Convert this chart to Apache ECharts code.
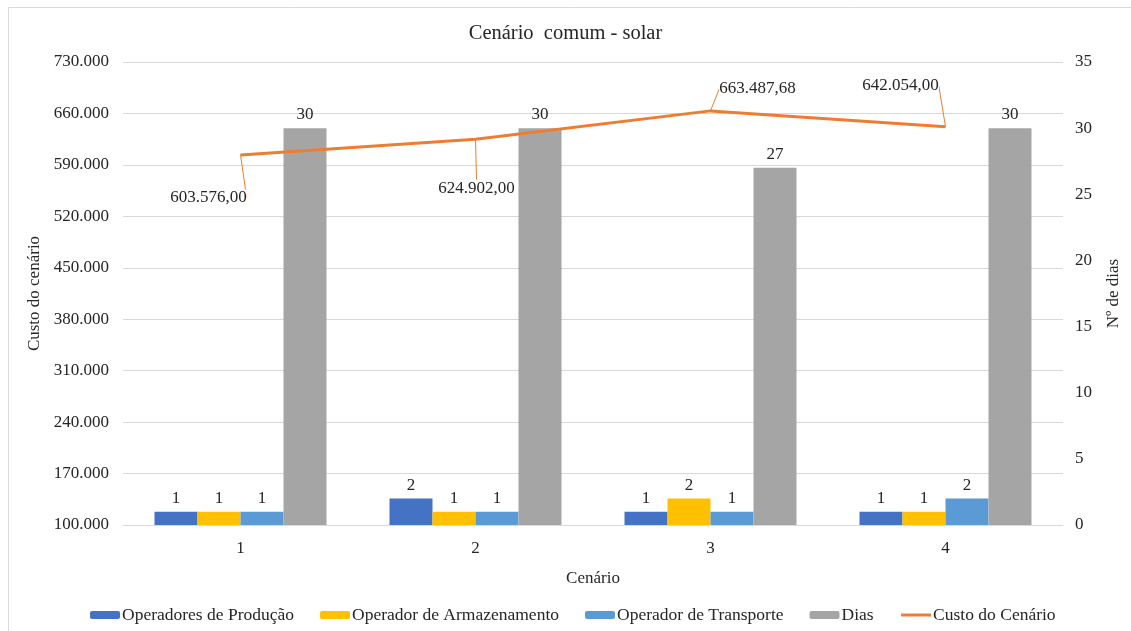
<!DOCTYPE html>
<head>
    <meta charset="UTF-8">
    <title>Cenário comum - solar</title>
    <script src="https://cdn.jsdelivr.net/npm/echarts@6/dist/echarts.min.js"></script>
    <style>
        body { margin: 0; background: #fff; }
        #main { width: 1131px; height: 631px; }
    </style>
</head>
<body>
    <div id="main"></div>
    <script type="text/javascript">
        // dados
        var cenarios = ['1', '2', '3', '4'];
        var operadoresProducao = [1, 2, 1, 1];
        var operadorArmazenamento = [1, 1, 2, 1];
        var operadorTransporte = [1, 1, 1, 2];
        var dias = [30, 30, 27, 30];
        var custoCenario = [603576.00, 624902.00, 663487.68, 642054.00];

        // deslocamento dos rótulos da linha (px)
        var labelShift = [[-32, 43], [1, 49], [47, -22], [-45, -41]];

        var serif = '"Liberation Serif", "DejaVu Serif", serif';
        var txt = '#262626';

        function milhar(v) {
            return String(Math.round(v)).replace(/\B(?=(\d{3})+(?!\d))/g, '.');
        }
        function moeda(v) {
            var p = v.toFixed(2).split('.');
            return milhar(Number(p[0])) + ',' + p[1];
        }

        var myChart = echarts.init(document.getElementById('main'));

        function barra(nome, dados, cor) {
            return {
                name: nome,
                type: 'bar',
                yAxisIndex: 1,
                data: dados,
                barWidth: 43,
                barGap: '0%',
                itemStyle: { color: cor },
                label: {
                    show: true,
                    position: 'top',
                    distance: 5,
                    fontFamily: serif,
                    fontSize: 17,
                    color: txt
                }
            };
        }

        myChart.setOption({
            animation: false,
            textStyle: { fontFamily: serif },
            graphic: [{
                type: 'rect',
                left: 6, top: 5,
                shape: { width: 1300, height: 800 },
                style: { fill: 'none', stroke: '#d9d9d9', lineWidth: 1 },
                silent: true
            }],
            title: {
                text: 'Cenário  comum - solar',
                left: 'center',
                top: 18,
                textStyle: { fontFamily: serif, fontSize: 20.5, fontWeight: 'normal', color: txt }
            },
            legend: {
                left: 85,
                top: 601,
                itemWidth: 30,
                itemHeight: 8,
                itemGap: 26,
                textStyle: { fontFamily: serif, fontSize: 17.5, color: txt, padding: [0, 0, 0, -3] },
                data: [
                    'Operadores de Produção',
                    'Operador de Armazenamento',
                    'Operador de Transporte',
                    'Dias',
                    { name: 'Custo do Cenário', itemStyle: { opacity: 0 }, lineStyle: { width: 3 } }
                ]
            },
            grid: { left: 123, right: 68, top: 62, bottom: 106 },
            xAxis: {
                type: 'category',
                data: cenarios,
                name: 'Cenário',
                nameLocation: 'middle',
                nameGap: 45,
                nameTextStyle: { fontFamily: serif, fontSize: 17, color: txt },
                axisLine: { lineStyle: { color: '#d9d9d9' } },
                axisTick: { show: false },
                axisLabel: { fontFamily: serif, fontSize: 17, color: txt, margin: 15 }
            },
            yAxis: [{
                type: 'value',
                min: 100000,
                max: 730000,
                interval: 70000,
                name: 'Custo do cenário',
                nameLocation: 'middle',
                nameGap: 78,
                nameTextStyle: { fontFamily: serif, fontSize: 17, color: txt },
                axisLine: { show: false },
                axisTick: { show: false },
                splitLine: { lineStyle: { color: '#d9d9d9' } },
                axisLabel: { fontFamily: serif, fontSize: 17, color: txt, margin: 14, formatter: milhar }
            }, {
                type: 'value',
                min: 0,
                max: 35,
                interval: 5,
                name: 'Nº de dias',
                nameLocation: 'middle',
                nameGap: 42,
                nameTextStyle: { fontFamily: serif, fontSize: 17, color: txt },
                axisLine: { show: false },
                axisTick: { show: false },
                splitLine: { show: false },
                axisLabel: { fontFamily: serif, fontSize: 17, color: txt, margin: 12 }
            }],
            series: [
                barra('Operadores de Produção', operadoresProducao, '#4472C4'),
                barra('Operador de Armazenamento', operadorArmazenamento, '#FFC000'),
                barra('Operador de Transporte', operadorTransporte, '#5B9BD5'),
                barra('Dias', dias, '#A5A5A5'),
                {
                    name: 'Custo do Cenário',
                    type: 'line',
                    yAxisIndex: 0,
                    data: custoCenario,
                    symbol: 'circle',
                    symbolSize: 1,
                    itemStyle: { color: '#ED7D31' },
                    lineStyle: { color: '#ED7D31', width: 3 },
                    z: 5,
                    label: {
                        show: true,
                        position: 'inside',
                        fontFamily: serif,
                        fontSize: 17,
                        color: txt,
                        backgroundColor: '#fff',
                        formatter: function (p) { return moeda(p.value); }
                    },
                    labelLine: {
                        show: true,
                        lineStyle: { color: '#ED7D31', width: 1 }
                    },
                    labelLayout: function (p) {
                        var s = labelShift[p.dataIndex];
                        return { dx: s[0], dy: s[1] };
                    }
                }
            ]
        });
    </script>
</body>
